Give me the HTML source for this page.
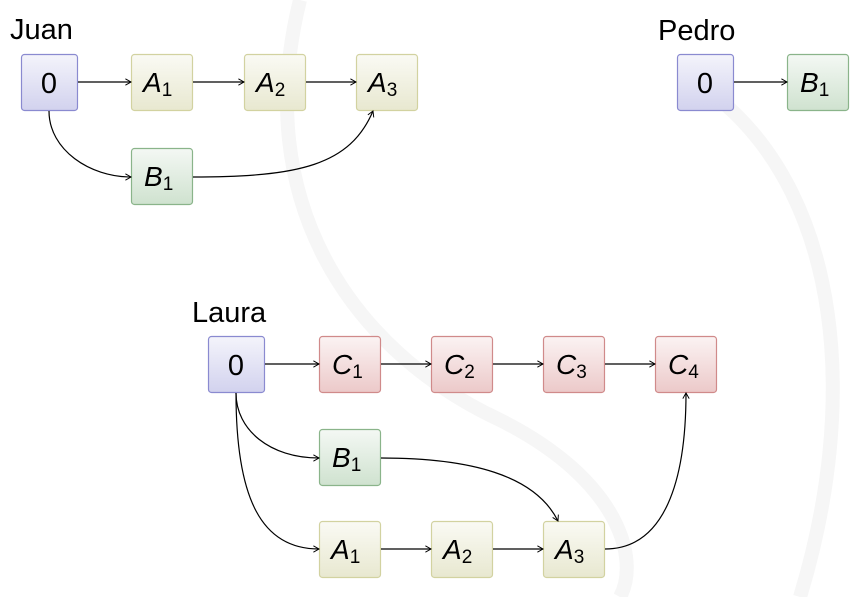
<!DOCTYPE html>
<html><head><meta charset="utf-8"><style>
html,body{margin:0;padding:0;background:#fff;}
svg{display:block;}
text{font-family:"Liberation Sans",sans-serif;fill:#000;}
</style></head><body>
<svg width="864" height="597" viewBox="0 0 864 597" xmlns="http://www.w3.org/2000/svg">
<defs>
<linearGradient id="gb" x1="0" y1="0" x2="0" y2="1"><stop offset="0" stop-color="#f4f4fb"/><stop offset="1" stop-color="#d2d2ee"/></linearGradient>
<linearGradient id="gy" x1="0" y1="0" x2="0" y2="1"><stop offset="0" stop-color="#fafaf4"/><stop offset="1" stop-color="#e8e8d0"/></linearGradient>
<linearGradient id="gg" x1="0" y1="0" x2="0" y2="1"><stop offset="0" stop-color="#f4f8f4"/><stop offset="1" stop-color="#cfe2cf"/></linearGradient>
<linearGradient id="gr" x1="0" y1="0" x2="0" y2="1"><stop offset="0" stop-color="#fbf3f3"/><stop offset="1" stop-color="#ecc9c9"/></linearGradient>
<marker id="ar" viewBox="0 0 10 10" refX="9" refY="5" markerWidth="8" markerHeight="8" markerUnits="userSpaceOnUse" orient="auto">
<polyline points="2,1 9,5 2,9" fill="none" stroke="#000" stroke-width="1.2"/></marker>
</defs>
<g fill="none" stroke="#f6f6f6" stroke-width="14">
<path d="M300,0 C250,200 350,350 500,420 C620,480 640,560 620,597"/>
<path d="M720,100 C840,200 860,400 800,597"/>
</g>
<g font-size="29">
<text x="10" y="39">Juan</text>
<text x="658" y="40">Pedro</text>
<text x="192" y="322">Laura</text>
</g>
<g stroke-width="1.2">
<rect x="21.5" y="54.5" width="56" height="56" rx="3" fill="url(#gb)" stroke="#8a8ad0"/>
<rect x="131.5" y="54.5" width="61" height="56" rx="3" fill="url(#gy)" stroke="#d2d2a0"/>
<rect x="244.5" y="54.5" width="61" height="56" rx="3" fill="url(#gy)" stroke="#d2d2a0"/>
<rect x="356.5" y="54.5" width="61" height="56" rx="3" fill="url(#gy)" stroke="#d2d2a0"/>
<rect x="131.5" y="148.5" width="61" height="56" rx="3" fill="url(#gg)" stroke="#8ab48a"/>
<rect x="677.5" y="54.5" width="56" height="56" rx="3" fill="url(#gb)" stroke="#8a8ad0"/>
<rect x="787.5" y="54.5" width="61" height="56" rx="3" fill="url(#gg)" stroke="#8ab48a"/>
<rect x="208.5" y="336.5" width="56" height="56" rx="3" fill="url(#gb)" stroke="#8a8ad0"/>
<rect x="319.5" y="336.5" width="61" height="56" rx="3" fill="url(#gr)" stroke="#d08a8a"/>
<rect x="431.5" y="336.5" width="61" height="56" rx="3" fill="url(#gr)" stroke="#d08a8a"/>
<rect x="543.5" y="336.5" width="61" height="56" rx="3" fill="url(#gr)" stroke="#d08a8a"/>
<rect x="655.5" y="336.5" width="61" height="56" rx="3" fill="url(#gr)" stroke="#d08a8a"/>
<rect x="319.5" y="429.5" width="61" height="56" rx="3" fill="url(#gg)" stroke="#8ab48a"/>
<rect x="319.5" y="521.5" width="61" height="56" rx="3" fill="url(#gy)" stroke="#d2d2a0"/>
<rect x="431.5" y="521.5" width="61" height="56" rx="3" fill="url(#gy)" stroke="#d2d2a0"/>
<rect x="543.5" y="521.5" width="61" height="56" rx="3" fill="url(#gy)" stroke="#d2d2a0"/>
</g>
<g fill="none" stroke="#000" stroke-width="1.2" marker-end="url(#ar)">
<path d="M78,82 H131"/><path d="M193,82 H244"/><path d="M306,82 H356"/>
<path d="M49,111 C49,150 90,177 131,177"/>
<path d="M193,177 C300,177 350,165 373,111"/>
<path d="M734,82 H787"/>
<path d="M265,364 H319"/><path d="M381,364 H431"/><path d="M493,364 H543"/><path d="M605,364 H655"/>
<path d="M236,393 C236,430 270,458 319,458"/>
<path d="M236,393 C236,500 262,549 319,549"/>
<path d="M381,458 C470,458 535,475 558,521"/>
<path d="M381,549 H431"/><path d="M493,549 H543"/>
<path d="M605,549 C665,549 686,480 686,393"/>
</g>
<g font-size="29" text-anchor="middle">
<text x="49" y="93">0</text>
<text x="705" y="93">0</text>
<text x="236" y="375">0</text>
</g>
<g font-size="28" font-style="italic">
<text x="143" y="92">A<tspan font-style="normal" font-size="19" dy="4">1</tspan></text>
<text x="256" y="92">A<tspan font-style="normal" font-size="19" dy="4">2</tspan></text>
<text x="368" y="92">A<tspan font-style="normal" font-size="19" dy="4">3</tspan></text>
<text x="144" y="186">B<tspan font-style="normal" font-size="19" dy="4">1</tspan></text>
<text x="800" y="92">B<tspan font-style="normal" font-size="19" dy="4">1</tspan></text>
<text x="332" y="374">C<tspan font-style="normal" font-size="19" dy="4">1</tspan></text>
<text x="444" y="374">C<tspan font-style="normal" font-size="19" dy="4">2</tspan></text>
<text x="556" y="374">C<tspan font-style="normal" font-size="19" dy="4">3</tspan></text>
<text x="668" y="374">C<tspan font-style="normal" font-size="19" dy="4">4</tspan></text>
<text x="332" y="467">B<tspan font-style="normal" font-size="19" dy="4">1</tspan></text>
<text x="331" y="559">A<tspan font-style="normal" font-size="19" dy="4">1</tspan></text>
<text x="443" y="559">A<tspan font-style="normal" font-size="19" dy="4">2</tspan></text>
<text x="555" y="559">A<tspan font-style="normal" font-size="19" dy="4">3</tspan></text>
</g>
</svg>
</body></html>
